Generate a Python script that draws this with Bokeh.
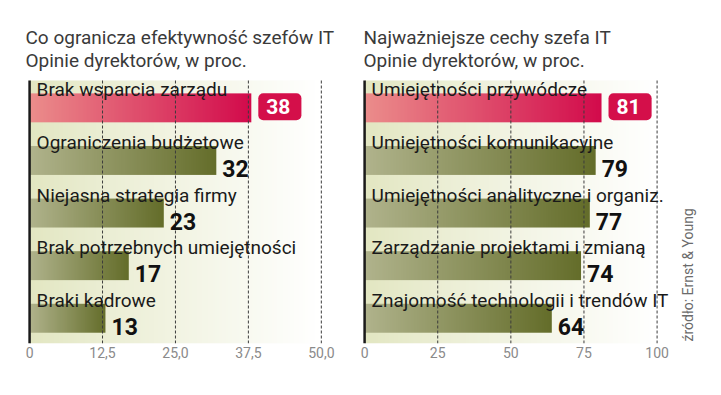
import numpy as np
from bokeh.plotting import figure
from bokeh.layouts import row
from bokeh.models import Range1d, FixedTicker, Label
from bokeh.core.properties import value
from bokeh.embed import file_html
from bokeh.resources import INLINE

# ---------------- data ----------------
left_title = "Co ogranicza efektywność szefów IT"
left_subtitle = "Opinie dyrektorów, w proc."
left_categories = ["Brak wsparcia zarządu", "Ograniczenia budżetowe",
                   "Niejasna strategia firmy", "Brak potrzebnych umiejętności",
                   "Braki kadrowe"]
left_values = [38, 32, 23, 17, 13]
left_ticks = [0, 12.5, 25, 37.5, 50]
left_tick_labels = ["0", "12,5", "25,0", "37,5", "50,0"]

right_title = "Najważniejsze cechy szefa IT"
right_subtitle = "Opinie dyrektorów, w proc."
right_categories = ["Umiejętności przywódcze", "Umiejętności komunikacyjne",
                    "Umiejętności analityczne i organiz.",
                    "Zarządzanie projektami i zmianą",
                    "Znajomość technologii i trendów IT"]
right_values = [81, 79, 77, 74, 64]
right_ticks = [0, 25, 50, 75, 100]
right_tick_labels = ["0", "25", "50", "75", "100"]

source_text = "źródło: Ernst & Young"

# ---------------- style ----------------
LABEL_FONT = "Roboto"
VALUE_FONT = "Roboto"
RED_L, RED_R = (235, 141, 139), (210, 10, 75)
GRN_L, GRN_R = (176, 179, 140), (100, 109, 42)
BG_L = (226, 230, 193)
BOX_RED = "#d40f4a"
SLOT_PX = 52.6      # pixel height of one category slot
BAND_TOP_PX = 80    # pixel distance from top of canvas to the bar band


def gradient(c0, c1, n=160, gamma=1.0):
    t = np.linspace(0.0, 1.0, n) ** gamma
    rgb = np.outer(1 - t, c0) + np.outer(t, c1)
    img = np.empty((1, n), dtype=np.uint32)
    view = img.view(dtype=np.uint8).reshape((1, n, 4))
    view[0, :, 0:3] = np.clip(rgb.round(), 0, 255).astype(np.uint8)
    view[0, :, 3] = 255
    return img


def panel(title, subtitle, cats, vals, ticks, tick_labels, x_start, x_end,
          width, b_left, b_right, title_dx, source=None):
    n = len(cats)
    ys = [n - 1 - i for i in range(n)]
    y_top = n - 0.5 + BAND_TOP_PX / SLOT_PX
    p = figure(width=width, height=383,
               x_range=Range1d(x_start, x_end), y_range=Range1d(-0.5, y_top),
               y_axis_location=None, toolbar_location=None, output_backend="svg",
               min_border_left=b_left, min_border_right=b_right,
               min_border_top=0, min_border_bottom=40)
    p.outline_line_color = None
    p.xgrid.visible = False
    p.ygrid.visible = False
    p.background_fill_color = "white"
    p.border_fill_color = "white"

    # background gradient of the plotting band
    p.image_rgba(image=[gradient(BG_L, (255, 255, 255), gamma=0.9)],
                 x=0, y=-0.5, dw=ticks[-1], dh=n)

    # bars with horizontal gradients
    hi = int(np.argmax(vals))
    imgs = [gradient(RED_L, RED_R) if i == hi else gradient(GRN_L, GRN_R)
            for i in range(n)]
    bar_h = 0.55
    p.image_rgba(image=imgs, x=[0] * n, y=[y - bar_h / 2 - 0.02 for y in ys],
                 dw=vals, dh=[bar_h] * n)

    # dashed grid lines
    gx = [t for t in ticks if t != 0]
    p.segment(x0=gx, y0=[-0.5] * len(gx), x1=gx, y1=[n - 0.5] * len(gx),
              line_color="#3c3c3c", line_width=1, line_dash="3 2")

    # category labels
    p.text(x=[0] * n, y=ys, text=cats, x_offset=7, y_offset=-17,
           text_baseline="alphabetic", text_align="left",
           text_font=value(LABEL_FONT), text_font_size="19px",
           text_color="#1a1a1a")

    # value labels (non highlighted)
    idx = [i for i in range(n) if i != hi]
    p.text(x=[vals[i] for i in idx], y=[ys[i] for i in idx],
           text=[str(vals[i]) for i in idx], x_offset=6, y_offset=9,
           text_baseline="alphabetic", text_align="left",
           text_font=value(VALUE_FONT), text_font_size="23px",
           text_font_style="bold", text_color="#111111")

    # highlighted value in a red box
    p.add_layout(Label(x=vals[hi], y=ys[hi], text=str(vals[hi]),
                       x_offset=7, text_baseline="middle", text_align="left",
                       text_font=VALUE_FONT, text_font_size="21px",
                       text_font_style="bold", text_color="white",
                       background_fill_color=BOX_RED, border_radius=5,
                       padding=dict(left=8, right=11, top=6, bottom=6)))

    # axis line at zero
    p.segment(x0=[0], y0=[-0.5], x1=[0], y1=[n - 0.5],
              line_color="#1a1a1a", line_width=2.5)

    # titles (above the band)
    p.text(x=[x_start, x_start], y=[n - 0.5, n - 0.5], text=[title, subtitle],
           x_offset=title_dx, y_offset=[-43, -20],
           text_baseline="alphabetic", text_align="left",
           text_font=value(LABEL_FONT), text_font_size="19px",
           text_color="#3a3a3a")

    if source:
        p.text(x=[x_end], y=[-0.5], text=[source], x_offset=-13, y_offset=-2,
               angle=np.pi / 2, text_baseline="middle", text_align="left",
               text_font=value(LABEL_FONT), text_font_size="14px",
               text_color="#6b6b6b")

    # x axis
    p.xaxis.ticker = FixedTicker(ticks=ticks)
    p.xaxis.major_label_overrides = {t: l for t, l in zip(ticks, tick_labels)}
    p.xaxis.axis_line_color = None
    p.xaxis.major_tick_line_color = None
    p.xaxis.minor_tick_line_color = None
    p.xaxis.major_tick_out = 0
    p.xaxis.major_tick_in = 0
    p.xaxis.major_label_standoff = 3
    p.xaxis.major_label_text_font = LABEL_FONT
    p.xaxis.major_label_text_font_size = "14px"
    p.xaxis.major_label_text_color = "#8a8a8a"
    return p


p1 = panel(left_title, left_subtitle, left_categories, left_values,
           left_ticks, left_tick_labels, -0.7, 55.0, 356, 25, 6, 0)
p2 = panel(right_title, right_subtitle, right_categories, right_values,
           right_ticks, right_tick_labels, -1.4, 114.84, 357, 4, 13, 3,
           source=source_text)

layout = row(p1, p2)
open("out.html", "w").write(file_html(layout, INLINE))
